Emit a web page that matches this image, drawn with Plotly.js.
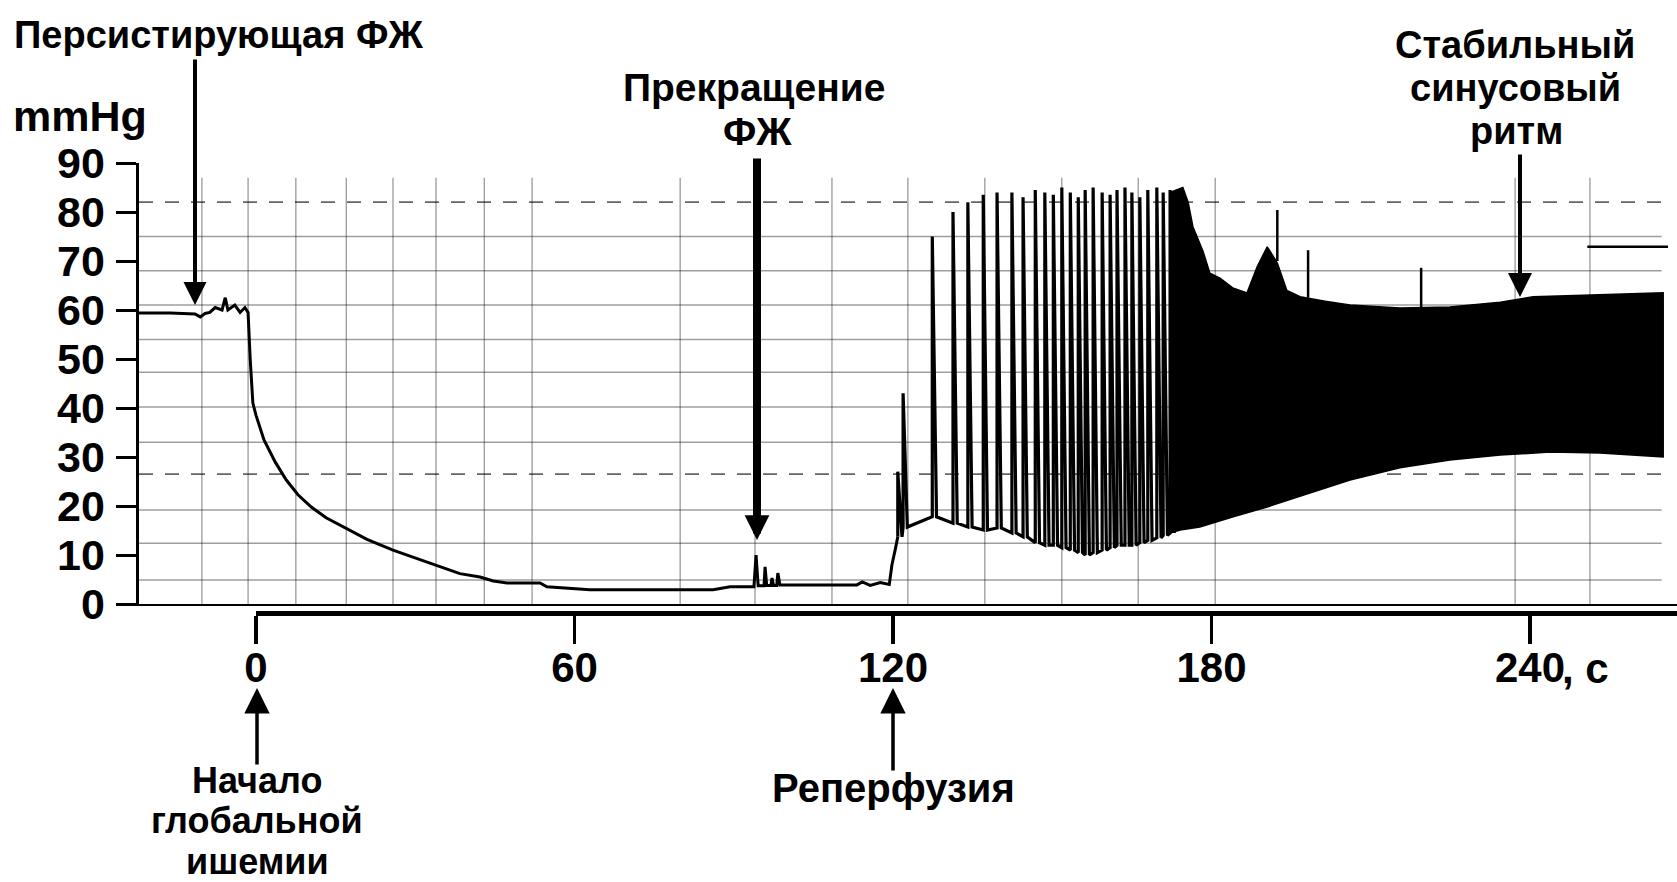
<!DOCTYPE html>
<html><head><meta charset="utf-8">
<script src="https://cdn.plot.ly/plotly-3.0.1.min.js"></script>
<style>html,body{margin:0;padding:0;background:#fff}#chart{width:1677px;height:882px}</style>
</head><body><div id="chart"></div>
<script>
// ---------- data (time in s, pressure in mmHg) ----------
const preT = [-22.1,-16.2,-11.5,-10.5,-9.6,-8.7,-7.7,-6.4,-5.8,-5.3,-4.0,-3.0,-2.1,-1.5,-1.1,-0.6,0,1.5,3.6,5.7,7.9,10.4,13.2,16.4,20.9,25.8,32.6,38.4,42.2,44.7,47.3,53.5,54.8,62.9,86.1,89.3,93.8,94.2,94.6,95.7,95.9,96.2,97.0,97.2,97.5,98.1,98.3,98.7,113.2,114.2,115.7,117.6,119.3,119.8,120.4,120.9];
const preV = [59.4,59.4,59.2,58.6,59.3,59.5,60.5,60.0,62.5,60.0,61.0,59.5,60.5,59.5,50,41,38.5,33.5,29,25.3,22.3,19.8,17.6,15.7,13.2,11,8.4,6.2,5.5,4.7,4.3,4.3,3.5,2.9,2.9,3.5,3.5,10,3.7,3.7,7.6,3.8,3.8,5.3,3.8,3.8,6.3,3.9,3.9,4.5,3.8,4.4,4.0,8,11,13.7];

const beatT      = [120.9,121.9,127.4,131.3,134.1,137.0,139.6,142.4,144.5,146.8,148.6,150.2,151.8,153.4,154.9,156.2,157.7,159.4,160.9,162.2,163.7,165.0,166.5,168.0,169.7,170.9,172.2];
const beatPeak   = [27,43,75,80,82,83.5,84,84,83,84.5,84,83.5,85,84,83,84.5,85,84,83.5,84.5,85,84,83,84.5,85,84,84.5];
const beatTrough = [13.7,15.7,17.8,16.5,15.7,15.1,15.5,14.5,13.7,12.5,12,12,11.5,11,10.5,10,10.5,11,11.5,12,12,12,12.5,13,13.5,14,14.5];

const bandUpperT = [172.2,173.4,174.6,175.6,176.5,178.4,179.7,181.6,184.0,186.7,188.6,190.5,192.4,194.2,196.7,201.4,206.1,215.5,224.9,234.4,240.6,250.0,257.5,265.1];
const bandUpperV = [84,84.5,85,82,77,72,67.5,66.5,64.5,63.5,68.8,72.9,69.6,64,62.7,61.8,61,60.4,60.6,61.6,62.7,63,63.3,63.5];
const bandLowerT = [172.2,174.1,177.8,184.1,190.5,196.7,206.1,215.5,224.9,234.4,243.8,253.2,265.1];
const bandLowerV = [14.5,15.1,15.7,17.8,19.8,22,25.3,27.8,29.4,30.4,31,30.8,30];

const spikeT    = [192.4,198.2,219.5];
const spikeBase = [70,62.5,60.4];
const spikeTop  = [80.4,72.2,68.6];

const yTickVals = [0,10,20,30,40,50,60,70,80,90];
const xTickVals = [0,60,120,180,240];
const xTickText = ['0','60','120','180','240'];

// chart-paper grid
const paperGridSolid  = [4.9,12.4,19.2,33,40.2,47.3,54,61,68,75];
const paperGridDashed = [26.5,82];
const paperGridT = [-10.2,-1.5,7.5,17.0,25.8,33.9,43.0,52.0,79.9,94.0,108.5,122.8,137.3,151.8,166.2,180.7,237.2,251.3];

const X_MIN = -22.05, X_MAX = 267.7;

// ---------- layout helpers ----------
const W = 1677, H = 882, M = {l:139, r:0, t:163, b:269, pad:0};
const PW = W - M.l - M.r, PH = H - M.t - M.b;
const px = x => (x - M.l) / PW;
const py = y => (H - M.b - y) / PH;
const FONT = 'Liberation Sans, Arial, Helvetica, sans-serif';
const d0 = (0 - X_MIN) / (X_MAX - X_MIN);

// ---------- traces ----------
const bx = [], by = [];
beatT.forEach((t, i) => { bx.push(t, t, t + 0.8); by.push(beatTrough[i], beatPeak[i], beatTrough[i]); });

const bandX = bandUpperT.concat(bandLowerT.slice().reverse());
const bandY = bandUpperV.concat(bandLowerV.slice().reverse());

const sx = [], sy = [];
spikeT.forEach((t, i) => { sx.push(t, t, null); sy.push(spikeBase[i], spikeTop[i], null); });

const traces = [
  {type:'scatter', mode:'lines', x:preT, y:preV, line:{color:'#000', width:3}, hoverinfo:'skip', showlegend:false},
  {type:'scatter', mode:'lines', x:bx, y:by, line:{color:'#000', width:3.2}, hoverinfo:'skip', showlegend:false},
  {type:'scatter', mode:'lines', x:bandX, y:bandY, fill:'toself', fillcolor:'#000', line:{color:'#000', width:1.5}, hoverinfo:'skip', showlegend:false},
  {type:'scatter', mode:'lines', x:sx, y:sy, line:{color:'#000', width:2.5}, hoverinfo:'skip', showlegend:false},
  {type:'scatter', mode:'lines', x:[0,240], y:[null,null], xaxis:'x2', yaxis:'y', hoverinfo:'skip', showlegend:false}
];

// ---------- grid shapes ----------
const shapes = [];
paperGridSolid.forEach(v => shapes.push({type:'line', layer:'below', xref:'paper', yref:'y', x0:0, x1:0.99, y0:v, y1:v, line:{color:'rgba(0,0,0,0.38)', width:1.5}}));
paperGridDashed.forEach(v => shapes.push({type:'line', layer:'below', xref:'paper', yref:'y', x0:0, x1:0.99, y0:v, y1:v, line:{color:'rgba(0,0,0,0.6)', width:1.8, dash:'14px,12px'}}));
paperGridT.forEach(t => shapes.push({type:'line', layer:'below', xref:'x', yref:'y', x0:t, x1:t, y0:0, y1:87, line:{color:'rgba(0,0,0,0.4)', width:1.3}}));
shapes.push({type:'line', layer:'below', xref:'x', yref:'y', x0:250.8, x1:266, y0:72.9, y1:72.9, line:{color:'#000', width:2.5}});

// ---------- annotations ----------
function txt(text, xPix, yPix, size, xanchor) {
  return {text:text, xref:'paper', yref:'paper', x:px(xPix), y:py(yPix), xanchor:xanchor||'center', yanchor:'middle',
          showarrow:false, borderpad:0, font:{family:FONT, size:size||40, color:'#000', weight:'bold'}};
}
function arrow(xPix, tipY, tailY, w, s) {
  return {text:'', xref:'paper', yref:'paper', x:px(xPix), y:py(tipY), ax:0, ay:tailY - tipY, axref:'pixel', ayref:'pixel',
          showarrow:true, arrowhead:2, arrowwidth:w, arrowsize:s, arrowcolor:'#000', standoff:0};
}
const annotations = [
  txt('Персистирующая ФЖ', 13, 35, 38, 'left'),
  txt('mmHg', 12, 116, 43, 'left'),
  txt('Прекращение', 754, 87, 39),
  txt('ФЖ', 757, 132, 39),
  txt('Стабильный', 1515, 45, 38),
  txt('синусовый', 1515, 88, 38),
  txt('ритм', 1516, 131, 38),
  txt('Начало', 257, 780, 36),
  txt('глобальной', 257, 821, 36),
  txt('ишемии', 257, 861.5, 36),
  txt('Реперфузия', 893, 788),
  txt(', с', 1561, 668, 42, 'left'),
  arrow(195, 305, 58, 4, 1.15),
  arrow(757, 540, 157, 8, 0.62),
  arrow(1520, 297, 153, 4, 1.2),
  arrow(257, 688, 766, 3.5, 1.45),
  arrow(893, 688, 772, 3.5, 1.45)
];

const layout = {
  width:W, height:H, margin:M, paper_bgcolor:'#fff', plot_bgcolor:'rgba(0,0,0,0)', showlegend:false,
  font:{family:FONT, color:'#000'},
  xaxis:{domain:[0,1], range:[X_MIN, X_MAX], anchor:'y', showline:true, linewidth:1.5, linecolor:'#000',
         showticklabels:false, ticks:'', showgrid:false, zeroline:false, fixedrange:true},
  xaxis2:{domain:[d0,1], range:[0, X_MAX], anchor:'free', position:0, showline:true, linewidth:5, linecolor:'#000',
          ticks:'outside', ticklen:28, tickwidth:3.5, tickcolor:'#000', tickvals:xTickVals, ticktext:xTickText,
          tickfont:{family:FONT, size:42, color:'#000', weight:'bold'}, ticklabelstandoff:-12,
          showgrid:false, zeroline:false, fixedrange:true},
  yaxis:{domain:[py(604),1], range:[0,90], anchor:'x', tickvals:yTickVals, ticks:'outside', ticklen:20, tickwidth:3,
         tickcolor:'#000', showline:true, linewidth:3.5, linecolor:'#000', showgrid:false, zeroline:false,
         tickfont:{family:FONT, size:43, color:'#000', weight:'bold'}, ticklabelstandoff:2, fixedrange:true},
  shapes:shapes,
  annotations:annotations
};

Plotly.newPlot('chart', traces, layout, {staticPlot:true, displayModeBar:false});
</script>
</body></html>
